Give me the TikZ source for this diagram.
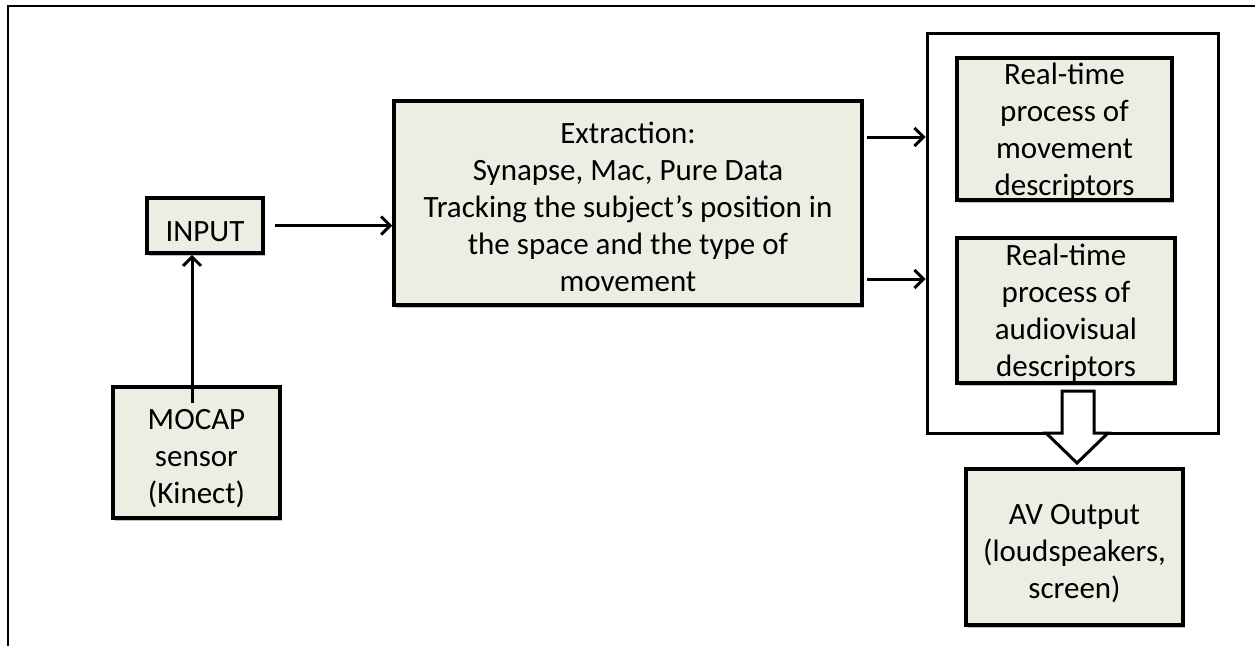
\documentclass[tikz,border=0pt]{standalone}
\usepackage{fontspec}
\setmainfont{Carlito}
\usetikzlibrary{arrows.meta,shadows}
\definecolor{boxfill}{RGB}{238,237,228}
\newcommand{\topstrut}{\rule{0pt}{33pt}}
\tikzset{
  px/.style={x=1pt,y=-1pt},
  procbox/.style={draw=black,line width=3.5pt,fill=boxfill,inner sep=0pt,align=center,
    font=\fontsize{31}{37}\selectfont,
    drop shadow={shadow xshift=2pt,shadow yshift=-3pt,opacity=0.25,fill=black}},
  groupbox/.style={draw=black,line width=3pt,fill=white,inner sep=0pt},
  conn/.style={line width=3pt,-{Straight Barb[length=9pt,width=18pt,line width=3pt]}},
  frameline/.style={line width=2pt},
  blockarrow/.style={draw=black,line width=3pt,fill=white,line join=miter}
}
\begin{document}
\begin{tikzpicture}[px]
\useasboundingbox (0,0) rectangle (1257,646);
\draw[frameline] (8,646) -- (8,6) -- (1255,6);
% container
\node[groupbox,minimum width=291pt,minimum height=400pt] (grp) at (1072.5,233) {};
% boxes
\node[procbox,minimum width=116pt,minimum height=55pt] (input) at (205,225.5) {\topstrut INPUT};
\node[procbox,minimum width=167pt,minimum height=131pt] (mocap) at (196.5,452.5) {\topstrut MOCAP\\sensor\\(Kinect)};
\node[procbox,minimum width=468pt,minimum height=204pt] (extr) at (628,203) {\rule{0pt}{29pt}Extraction:\\Synapse, Mac, Pure Data\\Tracking the subject’s position in\\the space and the type of\\movement};
\node[procbox,text depth=0pt,minimum width=215pt,minimum height=142pt] (mov) at (1064.5,129) {Real-time\\process of\\movement\\descriptors};
\node[procbox,text depth=0pt,minimum width=218pt,minimum height=145pt] (av) at (1066,310.5) {Real-time\\process of\\audiovisual\\descriptors};
\node[procbox,minimum width=217pt,minimum height=156pt] (out) at (1074.5,547) {\topstrut AV Output\\(loudspeakers,\\screen)};
% connectors
\coordinate (mtop) at (192,403);
\draw[conn] (mtop) -- (mtop |- input.south);
\draw[conn,shorten <=10pt] (input.east) -- (input.east -| extr.west);
\coordinate (e1) at (867,137);
\coordinate (e2) at (867,279);
\draw[conn] (e1) -- (e1 -| grp.west);
\draw[conn] (e2) -- (e2 -| grp.west);
% block arrow from group to output
\draw[blockarrow] (1062,391) -- (1094,391) -- (1094,433) -- (1108,433) -- (1077,463) -- (1046,433) -- (1062,433) -- cycle;
\end{tikzpicture}
\end{document}
